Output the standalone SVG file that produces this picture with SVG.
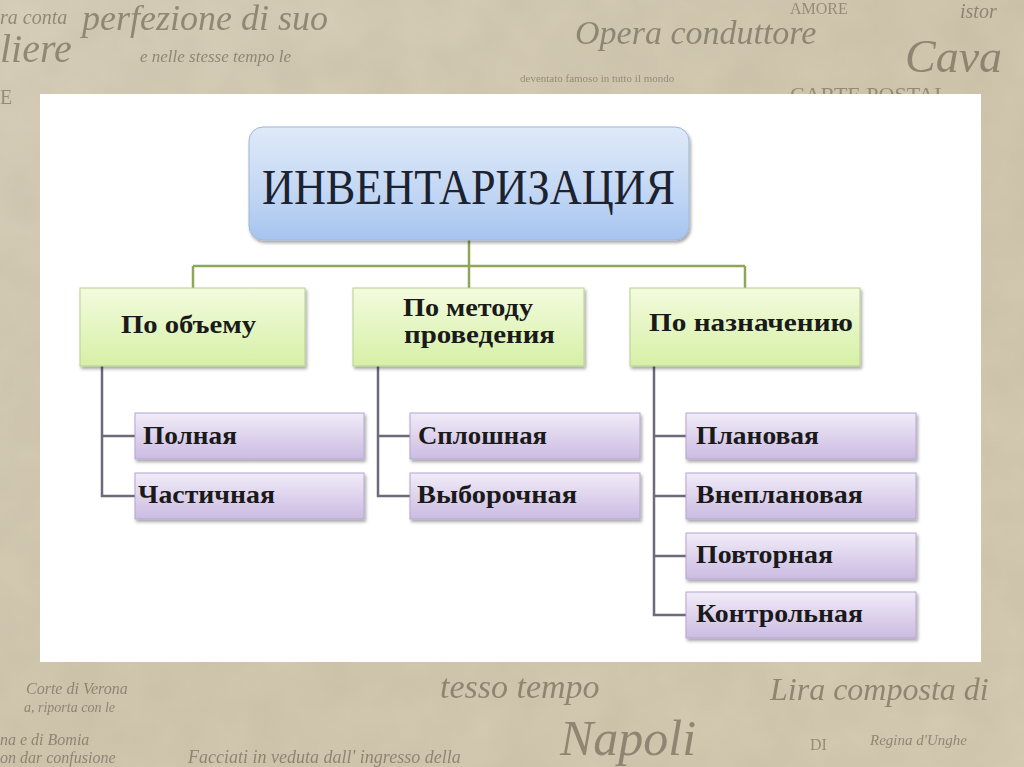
<svg xmlns="http://www.w3.org/2000/svg" width="1024" height="767" viewBox="0 0 1024 767">
<style>
.bg{font-family:"Liberation Serif",serif;font-style:italic;fill:#5a5142;opacity:0.55}
.bgs{font-family:"Liberation Serif",serif;fill:#5a5142;opacity:0.5}
.title{font-family:"Liberation Serif",serif;font-size:50px;fill:#1c2230}
.l2{font-family:"Liberation Serif",serif;font-weight:bold;font-size:25px;fill:#1a1a1a}
.l3{font-family:"Liberation Serif",serif;font-weight:bold;font-size:25px;fill:#1a1a1a}
.g{stroke:#8ea655;stroke-width:2.5;fill:none}
.p{stroke:#6f6a7a;stroke-width:2.5;fill:none}
.b2{fill:url(#gGreen);stroke:#b9cf8f;stroke-width:1}
.b3{fill:url(#gPurple);stroke:#b6a6cf;stroke-width:1}
</style>
<defs>
<linearGradient id="gBg" x1="0" y1="0" x2="1" y2="1">
<stop offset="0" stop-color="#d9d0bb"/>
<stop offset="0.5" stop-color="#d2c8af"/>
<stop offset="1" stop-color="#d6ccb3"/>
</linearGradient>
<filter id="noise" x="0" y="0" width="100%" height="100%">
<feTurbulence type="fractalNoise" baseFrequency="0.02" numOctaves="3" seed="4"/>
<feColorMatrix values="0 0 0 0 0.45  0 0 0 0 0.4  0 0 0 0 0.3  0 0 0 0.3 0"/>
</filter>
<linearGradient id="gBlue" x1="0" y1="0" x2="0" y2="1">
<stop offset="0" stop-color="#dfeaf8"/>
<stop offset="0.55" stop-color="#c4d8f4"/>
<stop offset="1" stop-color="#a6c4ef"/>
</linearGradient>
<linearGradient id="gGreen" x1="0" y1="0" x2="0" y2="1">
<stop offset="0" stop-color="#f3fbde"/>
<stop offset="1" stop-color="#d6f0a6"/>
</linearGradient>
<linearGradient id="gPurple" x1="0" y1="0" x2="0" y2="1">
<stop offset="0" stop-color="#f1ecf8"/>
<stop offset="1" stop-color="#cbbbe2"/>
</linearGradient>
<filter id="sh" x="-10%" y="-20%" width="120%" height="150%">
<feDropShadow dx="1.5" dy="2.5" stdDeviation="1.8" flood-color="#000" flood-opacity="0.35"/>
</filter>
</defs>

<g id="background">
<rect x="0" y="0" width="1024" height="767" fill="url(#gBg)"/>
<rect x="0" y="0" width="1024" height="767" filter="url(#noise)"/>
<text class="bg" x="0" y="24" font-size="20">ra conta</text>
<text class="bg" x="82" y="30" font-size="36">perfezione di suo</text>
<text class="bg" x="0" y="62" font-size="40">liere</text>
<text class="bg" x="140" y="62" font-size="17">e nelle stesse tempo le</text>
<text class="bg" x="575" y="44" font-size="34">Opera conduttore</text>
<text class="bg" x="905" y="72" font-size="46">Cava</text>
<text class="bgs" x="790" y="14" font-size="16">AMORE</text>
<text class="bg" x="960" y="18" font-size="20">istor</text>
<text class="bgs" x="520" y="82" font-size="11">deventato famoso in tutto il mondo</text>
<text class="bgs" x="790" y="102" font-size="22">CARTE POSTAL</text>
<text class="bgs" x="0" y="104" font-size="20">E</text>
<text class="bg" x="440" y="698" font-size="34">tesso tempo</text>
<text class="bg" x="770" y="700" font-size="32">Lira composta di</text>
<text class="bg" x="26" y="694" font-size="16">Corte di Verona</text>
<text class="bg" x="24" y="712" font-size="14">a, riporta con le</text>
<text class="bg" x="0" y="745" font-size="16">na e di Bomia</text>
<text class="bg" x="0" y="763" font-size="16">on dar confusione</text>
<text class="bg" x="188" y="763" font-size="18">Facciati in veduta dall' ingresso della</text>
<text class="bg" x="560" y="755" font-size="50">Napoli</text>
<text class="bgs" x="810" y="750" font-size="16">DI</text>
<text class="bg" x="870" y="745" font-size="15">Regina d'Unghe</text>
</g>

<rect id="panel" x="40" y="94" width="941" height="568" fill="#ffffff"/>

<g id="connectors">
<path class="g" d="M469 240 V266 M193 266 H745 M193 266 V288 M469 266 V288 M745 266 V288"/>
<path class="p" d="M102 366 V496 H135 M102 436 H135"/>
<path class="p" d="M378 366 V496 H410 M378 436 H410"/>
<path class="p" d="M654 366 V615 H686 M654 436 H686 M654 496 H686 M654 556 H686"/>
</g>

<g id="n-root">
<rect x="249" y="127" width="440" height="113" rx="14" fill="url(#gBlue)" stroke="#9fb7d8" stroke-width="1" filter="url(#sh)"/>
<text class="title" x="262" y="204" textLength="413" lengthAdjust="spacingAndGlyphs">ИНВЕНТАРИЗАЦИЯ</text>
</g>

<g id="n-volume">
<rect class="b2" x="80" y="288" width="225" height="78" filter="url(#sh)"/>
<text class="l2" x="121" y="333" textLength="135" lengthAdjust="spacingAndGlyphs">По объему</text>
</g>
<g id="n-method">
<rect class="b2" x="353" y="288" width="231" height="78" filter="url(#sh)"/>
<text class="l2" x="403" y="316" textLength="130" lengthAdjust="spacingAndGlyphs">По методу</text>
<text class="l2" x="404" y="343" textLength="151" lengthAdjust="spacingAndGlyphs">проведения</text>
</g>
<g id="n-purpose">
<rect class="b2" x="630" y="288" width="230" height="78" filter="url(#sh)"/>
<text class="l2" x="649" y="331" textLength="204" lengthAdjust="spacingAndGlyphs">По назначению</text>
</g>

<g id="n-full">
<rect class="b3" x="135" y="413" width="229" height="46" filter="url(#sh)"/>
<text class="l3" x="143" y="444" textLength="94" lengthAdjust="spacingAndGlyphs">Полная</text>
</g>
<g id="n-partial">
<rect class="b3" x="135" y="473" width="229" height="46" filter="url(#sh)"/>
<text class="l3" x="138" y="503" textLength="137" lengthAdjust="spacingAndGlyphs">Частичная</text>
</g>
<g id="n-solid">
<rect class="b3" x="410" y="413" width="230" height="46" filter="url(#sh)"/>
<text class="l3" x="418" y="444" textLength="129" lengthAdjust="spacingAndGlyphs">Сплошная</text>
</g>
<g id="n-sample">
<rect class="b3" x="410" y="473" width="230" height="46" filter="url(#sh)"/>
<text class="l3" x="417" y="503" textLength="160" lengthAdjust="spacingAndGlyphs">Выборочная</text>
</g>
<g id="n-planned">
<rect class="b3" x="686" y="413" width="230" height="46" filter="url(#sh)"/>
<text class="l3" x="696" y="444" textLength="123" lengthAdjust="spacingAndGlyphs">Плановая</text>
</g>
<g id="n-unplanned">
<rect class="b3" x="686" y="473" width="230" height="46" filter="url(#sh)"/>
<text class="l3" x="696" y="503" textLength="167" lengthAdjust="spacingAndGlyphs">Внеплановая</text>
</g>
<g id="n-repeat">
<rect class="b3" x="686" y="533" width="230" height="46" filter="url(#sh)"/>
<text class="l3" x="696" y="563" textLength="137" lengthAdjust="spacingAndGlyphs">Повторная</text>
</g>
<g id="n-control">
<rect class="b3" x="686" y="592" width="230" height="46" filter="url(#sh)"/>
<text class="l3" x="696" y="622" textLength="167" lengthAdjust="spacingAndGlyphs">Контрольная</text>
</g>
</svg>
